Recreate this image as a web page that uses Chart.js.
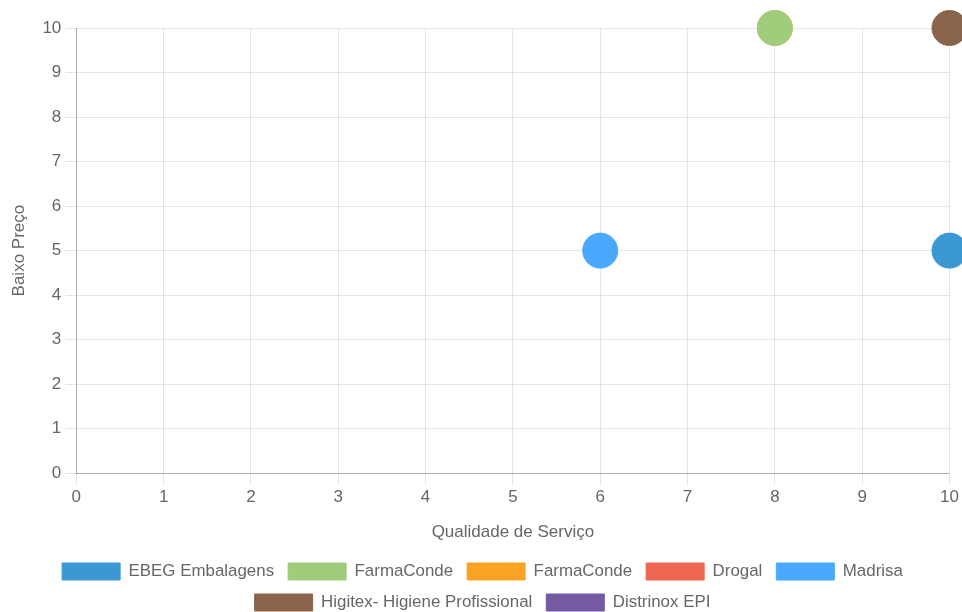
<!DOCTYPE html>
<html>
<head>
<meta charset="utf-8">
<script src="https://cdn.jsdelivr.net/npm/chart.js@4/dist/chart.umd.min.js"></script>
<style>
  html, body { margin: 0; padding: 0; background: #fff; overflow: hidden; }
  #wrap { position: absolute; left: 0; top: 0; width: 968px; height: 621px; }
</style>
</head>
<body>
<div id="wrap"><canvas id="chart"></canvas></div>
<script>
// Suppliers rated on service quality (x) and low price (y)
const suppliers = ['EBEG Embalagens', 'FarmaConde', 'FarmaConde', 'Drogal', 'Madrisa', 'Higitex- Higiene Profissional', 'Distrinox EPI'];
const qualidade = [[10], [8], [8], [], [6], [10], []];
const baixoPreco = [[5], [10], [10], [], [5], [10], []];
const colors = ['#3c98d2', '#a0cd7c', '#f9a324', '#ef6651', '#4aa8fd', '#89644a', '#7459a3'];
const xTicks = [0, 1, 2, 3, 4, 5, 6, 7, 8, 9, 10];
const yTicks = [0, 1, 2, 3, 4, 5, 6, 7, 8, 9, 10];

const FONT = { family: "'Liberation Sans', Arial, sans-serif", size: 17 };
const LEGEND_FONT = { family: "'Liberation Sans', Arial, sans-serif", size: 16.9 };
const TEXT = '#666';

const datasets = suppliers.map((name, i) => ({
  label: name,
  data: qualidade[i].map((x, k) => ({ x: x, y: baixoPreco[i][k] })),
  backgroundColor: colors[i],
  borderColor: colors[i],
  borderWidth: 1,
  radius: 17.5,
  hoverRadius: 17.5,
  clip: false
}));

new Chart(document.getElementById('chart'), {
  type: 'bubble',
  data: { datasets },
  options: {
    responsive: true,
    maintainAspectRatio: false,
    animation: false,
    layout: { padding: { top: 28, left: 6, right: 9, bottom: 0 } },
    plugins: {
      tooltip: { enabled: false },
      legend: {
        position: 'bottom',
        labels: {
          color: TEXT,
          font: LEGEND_FONT,
          boxWidth: 58,
          boxHeight: 17,
          padding: 14
        }
      }
    },
    scales: {
      x: {
        type: 'linear',
        min: xTicks[0],
        max: xTicks[xTicks.length - 1],
        afterBuildTicks: (s) => { s.ticks = xTicks.map(v => ({ value: v })); },
        ticks: { color: TEXT, font: FONT, padding: 3 },
        grid: { color: 'rgba(0,0,0,0.1)', tickLength: 11 },
        border: { color: 'rgba(0,0,0,0.25)' },
        title: { display: true, text: 'Qualidade de Serviço', color: TEXT, font: FONT, padding: { top: 12, bottom: 6 } }
      },
      y: {
        type: 'linear',
        min: yTicks[0],
        max: yTicks[yTicks.length - 1],
        afterBuildTicks: (s) => { s.ticks = yTicks.map(v => ({ value: v })); },
        ticks: { color: TEXT, font: FONT, padding: 4 },
        grid: { color: 'rgba(0,0,0,0.1)', tickLength: 11 },
        border: { color: 'rgba(0,0,0,0.25)' },
        title: { display: true, text: 'Baixo Preço', color: TEXT, font: FONT, padding: { top: 3, bottom: 9 } }
      }
    }
  }
});
</script>
</body>
</html>
